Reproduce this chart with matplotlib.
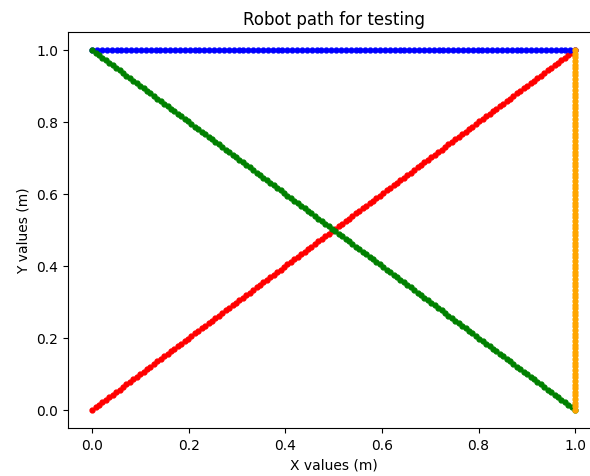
import numpy as np
import matplotlib
matplotlib.use("Agg")
import matplotlib.pyplot as plt

# Path segments: (start, end) in metres, sampled at roughly 0.01 m steps
seg_names = ["diag_up", "top", "diag_down", "right"]
seg_start_x = [0.0, 1.0, 0.0, 1.0]
seg_start_y = [0.0, 1.0, 1.0, 0.0]
seg_end_x = [1.0, 0.0, 1.0, 1.0]
seg_end_y = [1.0, 1.0, 0.0, 1.0]
seg_points = [142, 100, 142, 100]
seg_colors = ["red", "blue", "green", "orange"]

fig = plt.figure(figsize=(5.9, 4.77), dpi=100)
ax = fig.add_axes([68 / 590, 48 / 477, 1.1 * 483 / 590, 396 / 477])

for x0, y0, x1, y1, n, c in zip(seg_start_x, seg_start_y, seg_end_x, seg_end_y,
                                seg_points, seg_colors):
    xs = np.linspace(x0, x1, n)
    ys = np.linspace(y0, y1, n)
    ax.plot(xs, ys, ".", color=c, markersize=7)

ax.set_xlim(-0.05, 1.05)
ax.set_ylim(-0.05, 1.05)
ax.set_xticks([0.0, 0.2, 0.4, 0.6, 0.8, 1.0])
ax.set_yticks([0.0, 0.2, 0.4, 0.6, 0.8, 1.0])
ax.set_xlabel("X values (m)")
ax.set_ylabel("Y values (m)")
ax.set_title("Robot path for testing")

fig.savefig("out.png", dpi=100)
